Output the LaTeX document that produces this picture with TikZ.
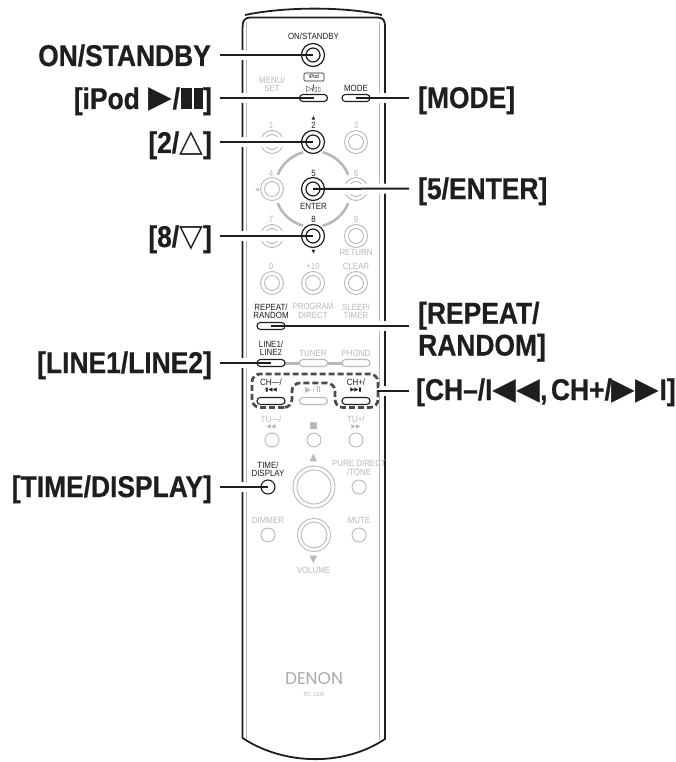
\documentclass[tikz,border=0pt]{standalone}
\usepackage{fontspec}
\usetikzlibrary{backgrounds}
\setmainfont{Liberation Sans}
\newfontfamily\bigf[FakeStretch=0.88,BoldFont={Liberation Sans Bold},BoldFeatures={FakeBold=0.6}]{Liberation Sans}
\newfontfamily\smf[FakeStretch=0.88]{Liberation Sans}
\newfontfamily\symf{DejaVu Sans}
\newfontfamily\logof{Poppins}
\definecolor{gr}{HTML}{B8B8B8}
\definecolor{ink}{HTML}{1E1E1E}
\tikzset{
 biglabel/.style={inner sep=0,text=ink,font=\bigf\bfseries\fontsize{30}{32}\selectfont,align=left},
 tiny/.style={inner sep=0,font=\smf\fontsize{9}{8.4}\selectfont,align=center,text=ink},
 tinygray/.style={tiny,text=gr},
 btnout/.style={circle,draw=ink,line width=1.2pt,fill=white,inner sep=0,minimum size=23},
 btnin/.style={circle,draw=ink,line width=1.2pt,inner sep=0,minimum size=14},
 gout/.style={circle,draw=gr,line width=.9pt,inner sep=0,minimum size=23},
 gin/.style={circle,draw=gr,line width=.9pt,inner sep=0,minimum size=15},
 small/.style={circle,draw=gr,line width=.9pt,inner sep=0,minimum size=14},
 pillb/.style={rectangle,rounded corners=3.4,draw=ink,line width=1.1pt,fill=white,inner sep=0,minimum width=28,minimum height=7},
 pillg/.style={pillb,draw=gr},
 body/.style={draw=ink,line width=1.8pt,line join=round},
 inner/.style={draw=gr,line width=.8pt},
 leader/.style={draw=ink,line width=2pt},
 halo/.style={draw=white,line width=10pt},
 dashbox/.style={draw=ink!80,line width=2.7pt,dash pattern=on 6pt off 3pt,rounded corners=8},
}
\newcommand{\sy}[2]{{\symf\fontsize{#1}{#1}\selectfont #2}}
\newcommand{\bigsy}[1]{\raisebox{1pt}{\symf\mdseries\fontsize{31}{31}\selectfont #1}}
\begin{document}
\begin{tikzpicture}[x=1pt,y=-1pt]
\useasboundingbox (0,0) rectangle (676,762);
\begin{scope}[on background layer]
 % body
 \draw[inner] (246,22) -- (246,740);
 \draw[inner] (379,22) -- (379,740);
 \draw[body] (242.5,28) -- (242.5,738) .. controls (285,766) and (345,766) .. (385,739) -- (385,28) .. controls (385,20) and (384,17.5) .. (376,17.5) -- (251,17.5) .. controls (244,17.5) and (242.5,21) .. (242.5,28);
 \draw[body] (245,15) .. controls (285,6.5) and (345,6.5) .. (382,15);
 % gray arcs
 \draw[gr,line width=2.6pt] (313,189) ++(158:38) arc (158:105:38);
 \draw[gr,line width=2.6pt] (313,189) ++(75:38) arc (75:22:38);
 \draw[gr,line width=2.6pt] (313,189) ++(202:38) arc (202:255:38);
 \draw[gr,line width=2.6pt] (313,189) ++(285:38) arc (285:338:38);
 % connecting bar
 \draw[gr,line width=3pt] (285,363) -- (342,363);
 % gray double buttons
 \foreach \nm/\cx/\cy in {g1/272/142,g3/356/142,g4/272/189,g6/356/189,g7/272/236,g9/356/236,g0/272/283,g10/313/283,gc/356/283}{
  \node[gout] (\nm o) at (\cx,\cy) {};
  \node[gin] (\nm i) at (\cx,\cy) {};
 }
 % gray pills
 \node[pillg] (ptuner) at (313.5,363) {};
 \node[pillg] (pphono) at (356,363) {};
 \node[pillg] (pplay) at (313.5,401) {};
 % gray small buttons
 \foreach \nm/\cx/\cy in {s1/272/440,s2/314/440,s3/356/440,s4/359/487,s5/268/535,s6/359/535}{
  \node[small] (\nm) at (\cx,\cy) {};
 }
 \node[circle,draw=gr,line width=.9pt,inner sep=0,minimum size=42] (vo) at (314,487) {};
 \node[circle,draw=gr,line width=.9pt,inner sep=0,minimum size=34] (vi) at (314,487) {};
 \node[circle,draw=gr,line width=.9pt,inner sep=0,minimum size=33] (wo) at (314,535) {};
 \node[circle,draw=gr,line width=.9pt,inner sep=0,minimum size=26] (wi) at (314,535) {};
 % gray texts
 \node[tinygray] (tmenu) at (272,84) {MENU/\\SET};
 \node[tinygray] (t1) at (271,125) {1};
 \node[tinygray] (t3) at (356,125) {3};
 \node[tinygray] (t4) at (271,173) {4};
 \node[tinygray] (t6) at (356,173) {6};
 \node[tinygray] (tl) at (257,190) {\sy{5}{◀}};
 \node[tinygray] (t7) at (271,219) {7};
 \node[tinygray] (t9) at (356,219) {9};
 \node[tinygray] (tret) at (356,252) {RETURN};
 \node[tinygray] (t0) at (271,266) {0};
 \node[tinygray] (t10) at (313,266) {+10};
 \node[tinygray] (tcl) at (356,266) {CLEAR};
 \node[tinygray] (tprog) at (313,311) {PROGRAM\\DIRECT};
 \node[tinygray] (tslp) at (356,311) {SLEEP/\\TIMER};
 \node[tinygray] (ttun) at (313,353) {TUNER};
 \node[tinygray] (tpho) at (356,353) {PHOND};
 \node[tinygray] (tpl) at (313,390) {\sy{8}{▶}\,/\,\textbf{II}};
 \node[tinygray] (ttum) at (271,419) {TU—/};
 \node[tinygray] (ttumb) at (271,427) {\sy{6}{◀◀}};
 \node[tinygray] (tstop) at (313.5,426) {\sy{9}{■}};
 \node[tinygray] (ttup) at (356,419) {TU+/};
 \node[tinygray] (ttupb) at (356,427) {\sy{6}{▶▶}};
 \node[tinygray] (tup) at (313.5,458) {\sy{10}{▲}};
 \node[tinygray] (tpure) at (359,468) {PURE DIRECT\\/TONE};
 \node[tinygray] (tdim) at (268,520) {DIMMER};
 \node[tinygray] (tmut) at (359,520) {MUTE};
 \node[tinygray] (tdn) at (313.5,560) {\sy{10}{▼}};
 \node[tinygray] (tvol) at (313.5,570.5) {VOLUME};
 \node[inner sep=0,text=gr!92!black] (tden) at (314,679) {\logof\fontsize{17}{18}\selectfont DENON};
 \node[tinygray,font=\smf\fontsize{6}{6}\selectfont] (trc) at (314,694) {RC-1109};
\end{scope}
% black buttons
\foreach \nm/\cy in {on/55,two/142,five/189,eight/236}{
 \node[btnout] (\nm) at (313,\cy) {};
 \node[btnin] (\nm i) at (313,\cy) {};
}
\node[pillb] (ipod) at (313.5,98) {};
\node[pillb] (mode) at (356,98) {};
\node[pillb] (rep) at (271,326) {};
\node[pillb] (line) at (271,363) {};
\node[pillb] (chm) at (271,401) {};
\node[pillb] (chp) at (356,401) {};
\node[circle,draw=ink,line width=1.1pt,fill=white,inner sep=0,minimum size=14] (time) at (268,487) {};
% black remote texts
\node[tiny] (ton) at (313.5,36) {ON/STANDBY};
\node[draw=ink,line width=.6pt,rounded corners=1,inner sep=0,minimum width=20,minimum height=8,font=\smf\fontsize{5.5}{6}\selectfont] (tipod) at (314,77) {iPod};
\node[tiny] (tipsym) at (313.5,88.5) {\sy{8}{▷}\textbf{/}\sy{6}{▯▯}};
\node[tiny] (tmode) at (356,88) {MODE};
\node[tiny] (tua) at (313.5,118) {\sy{5}{▲}};
\node[tiny] (t2) at (313.5,125.5) {2};
\node[tiny] (t5) at (313.5,173) {5};
\node[tiny] (tent) at (313.5,206) {ENTER};
\node[tiny] (t8) at (313.5,219.5) {8};
\node[tiny] (tda) at (313.5,252) {\sy{5}{▼}};
\node[tiny] (trep) at (271,311) {REPEAT/\\RANDOM};
\node[tiny] (tline) at (271,348) {LINE1/\\LINE2};
\node[tiny] (tchm) at (271,382) {CH—/};
\node[tiny] (tchmb) at (271,390) {\sy{5.5}{▮◀◀}};
\node[tiny] (tchp) at (356,382) {CH+/};
\node[tiny] (tchpb) at (356,390) {\sy{5.5}{▶▶▮}};
\node[tiny] (ttime) at (268,469) {TIME/\\DISPLAY};
% dashed frame
\coordinate (d1) at (292,407.5); \coordinate (d2) at (252,407.5); \coordinate (d3) at (252,374);
\coordinate (d4) at (378,374); \coordinate (d5) at (378,407.5); \coordinate (d6) at (335,407.5);
\coordinate (d7) at (335,383); \coordinate (d8) at (292,383);
\draw[dashbox] (d1) -- (d2) -- (d3) -- (d4) -- (d5) -- (d6) -- (d7) -- (d8) -- cycle;
% labels
\node[biglabel,anchor=base east] (lon) at (211,66) {ON/STANDBY};
\node[biglabel,anchor=base east] (lipod) at (212,109) {[iPod\kern9pt\bigsy{▶}\kern0pt/\kern1pt\rule{10.5pt}{21pt}\kern2pt\rule{9.5pt}{21pt}]};
\node[biglabel,anchor=base east] (ltwo) at (212,153) {[2/\bigsy{△}]};
\node[biglabel,anchor=base east] (leight) at (212,247) {[8/\bigsy{▽}]};
\node[biglabel,anchor=base east] (lline) at (212,373) {[LINE1/LINE2]};
\node[biglabel,anchor=base east] (ltime) at (212,497) {[TIME/DISPLAY]};
\node[biglabel,anchor=base west] (lmode) at (418,108) {[MODE]};
\node[biglabel,anchor=base west] (lfive) at (418,199) {[5/ENTER]};
\node[biglabel,anchor=base west,text width=140] (lrep) at (418,323.5) {[REPEAT/\\RANDOM]};
\node[biglabel,anchor=base west] (lch) at (416,400) {[CH–/I\bigsy{◀◀},\kern3.5pt CH+/\bigsy{▶▶}I]};
% leader ends
\coordinate (aon) at (220,55); \coordinate (aipod) at (220,98); \coordinate (atwo) at (220,142);
\coordinate (aeight) at (220,236); \coordinate (aline) at (220,363); \coordinate (atime) at (220,487);
\coordinate (amode) at (409,98); \coordinate (afive) at (409,188.5); \coordinate (arep) at (409,326); \coordinate (ach) at (409,391);
\coordinate (chs) at (377,391);
\begin{scope}[on background layer]
 \draw[halo] (aon) -- (on.center);
 \draw[halo] (aipod) -- (ipod.center);
 \draw[halo] (atwo) -- (two.center);
 \draw[halo] (aeight) -- (eight.center);
 \draw[halo] (aline) -- (line.west);
 \draw[halo] (atime) -- (time.west);
 \draw[halo] (amode) -- (mode.east);
 \draw[halo] (afive) -- (five.east);
 \draw[halo] (arep) -- (rep.east);
 \draw[halo] (ach) -- (chs);
\end{scope}
\draw[leader] (aon) -- (on.center);
\draw[leader] (aipod) -- (ipod.center);
\draw[leader] (atwo) -- (two.center);
\draw[leader] (aeight) -- (eight.center);
\draw[leader] (aline) -- (line.center);
\draw[leader] (atime) -- (time.center);
\draw[leader] (amode) -- (mode.center);
\draw[leader] (afive) -- (five.center);
\draw[leader] (arep) -- (rep.center);
\draw[leader] (ach) -- (chs);
\end{tikzpicture}
\end{document}
